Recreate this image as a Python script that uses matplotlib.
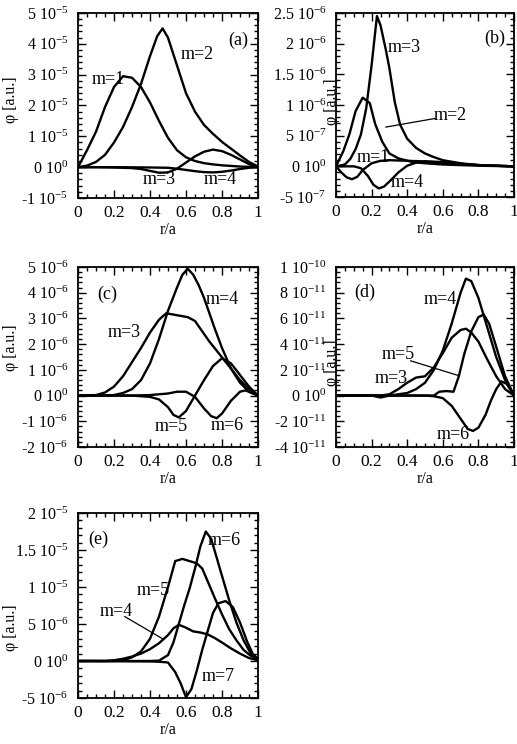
import numpy as np
import matplotlib
matplotlib.use('Agg')
import matplotlib.pyplot as plt
from matplotlib.ticker import AutoMinorLocator, FuncFormatter, MultipleLocator

plt.rcParams['font.family'] = ['Liberation Serif', 'DejaVu Serif']
plt.rcParams['mathtext.fontset'] = 'custom'
plt.rcParams['mathtext.rm'] = 'Liberation Serif'
plt.rcParams['mathtext.it'] = 'Liberation Serif'

# ---- panel (a), unidades 1e-5
a_r1 = [0, .05, .1, .15, .2, .25, .3, .35, .4, .45, .5, .55, .6, .65, .7, .75, .8, .85, .9, .95, 1.0]
a_m1 = [0, 0.55, 1.15, 1.95, 2.6, 2.95, 2.9, 2.6, 2.1, 1.5, 0.95, 0.55, 0.32, 0.2, 0.13, 0.09, 0.06, 0.04, 0.02, 0.01, 0]
a_r2 = [0, .05, .1, .15, .2, .25, .3, .35, .4, .44, .47, .5, .55, .6, .65, .7, .75, .8, .85, .9, .95, 1.0]
a_m2 = [0, 0.05, 0.17, 0.4, 0.8, 1.3, 1.95, 2.7, 3.6, 4.25, 4.5, 4.2, 3.3, 2.4, 1.8, 1.37, 1.08, 0.82, 0.6, 0.38, 0.17, 0.02]
a_r3 = [0, .1, .2, .3, .35, .4, .45, .5, .55, .6, .65, .7, .75, .8, .85, .9, .95, 1.0]
a_m3 = [0, 0, -0.01, -0.03, -0.06, -0.12, -0.18, -0.17, -0.05, 0.15, 0.35, 0.5, 0.57, 0.52, 0.4, 0.25, 0.1, 0]
a_r4 = [0, .2, .4, .5, .55, .6, .65, .7, .75, .8, .85, .9, .95, 1.0]
a_m4 = [0, 0, -0.01, -0.02, -0.05, -0.09, -0.13, -0.16, -0.17, -0.15, -0.11, -0.06, -0.02, 0]

# ---- panel (b), unidades 1e-7
b_r3 = [0, .05, .08, .11, .14, .17, .2, .23, .25, .28, .3, .33, .36, .4, .45, .5, .55, .6, .7, .8, .9, 1.0]
b_m3 = [0, 0.3, 1.2, 2.8, 5.2, 9.5, 16.5, 24.5, 23, 19, 16, 10.5, 6.8, 4.5, 3.0, 2.1, 1.5, 1.0, 0.5, 0.2, 0.08, 0]
b_r2 = [0, .04, .075, .11, .15, .19, .22, .26, .3, .35, .43, .5, .6, .7, .8, .9, 1]
b_m2 = [0, 2.4, 5.2, 9.0, 11.2, 10.3, 6.9, 4.0, 2.1, 1.3, 0.7, 0.5, 0.3, 0.2, 0.1, 0.05, 0]
b_r1 = [0, .03, .06, .09, .12, .15, .2, .25, .3, .4, .5, .6, .7, .8, .9, 1]
b_m1 = [0, -1.0, -1.8, -2.1, -1.7, -0.6, 0.5, 0.9, 1.0, 0.9, 0.8, 0.6, 0.4, 0.2, 0.1, 0]
b_r4 = [0, .1, .14, .18, .21, .24, .27, .31, .35, .4, .45, .5, .6, .7, .8, .9, 1]
b_m4 = [0, 0, -0.3, -1.6, -3.0, -3.6, -3.3, -2.2, -1.0, 0.1, 0.6, 0.8, 0.7, 0.4, 0.2, 0.1, 0]

# ---- panel (c), unidades 1e-6
c_r4 = [0, .15, .2, .25, .3, .35, .4, .45, .5, .55, .58, .61, .64, .67, .7, .73, .76, .8, .85, .9, .95, 1]
c_m4 = [0, 0, 0.02, 0.1, 0.25, 0.6, 1.25, 2.2, 3.3, 4.2, 4.7, 4.93, 4.7, 4.3, 3.8, 3.2, 2.6, 1.85, 1.05, 0.5, 0.15, 0]
c_r3 = [0, .1, .15, .2, .25, .3, .35, .4, .45, .49, .53, .57, .61, .65, .69, .73, .77, .81, .85, .9, .95, 1]
c_m3 = [0, 0.02, 0.12, 0.35, 0.75, 1.3, 1.85, 2.45, 2.95, 3.2, 3.15, 3.1, 3.05, 2.9, 2.5, 2.1, 1.75, 1.4, 1.05, 0.6, 0.25, 0]
c_r5 = [0, .3, .4, .45, .5, .53, .56, .6, .65, .7, .75, .8, .85, .9, .95, 1]
c_m5 = [0, 0, -0.05, -0.15, -0.45, -0.75, -0.85, -0.6, 0.0, 0.6, 1.15, 1.45, 1.25, 0.8, 0.35, 0]
c_r6 = [0, .3, .4, .5, .55, .6, .65, .7, .74, .77, .8, .85, .9, .93, .96, 1]
c_m6 = [0, 0, 0.02, 0.08, 0.15, 0.15, -0.05, -0.5, -0.8, -0.88, -0.7, -0.2, 0.15, 0.2, 0.12, 0]

# ---- panel (d), unidades 1e-11
d_r3 = [0, .25, .3, .35, .4, .45, .5, .55, .6, .65, .7, .73, .76, .8, .85, .9, .95, 1]
d_m3 = [0, 0, 0.1, 0.5, 1.0, 1.4, 1.5, 2.2, 3.3, 4.5, 5.1, 5.2, 4.9, 4.2, 2.8, 1.5, 0.5, 0]
d_r4 = [0, .3, .4, .45, .5, .55, .6, .65, .7, .73, .76, .8, .85, .9, .95, 1]
d_m4 = [0, 0, 0.2, 0.5, 1.0, 2.0, 3.5, 5.6, 8.0, 9.1, 8.9, 7.6, 5.3, 3.0, 1.2, 0]
d_r5 = [0, .2, .25, .3, .55, .58, .62, .66, .69, .72, .76, .8, .83, .86, .9, .95, 1]
d_m5 = [0, 0, -0.15, 0, 0, 0.3, 0.35, 0.3, 1.5, 3.2, 5.0, 6.1, 6.3, 5.6, 3.8, 1.5, 0]
d_r6 = [0, .5, .55, .6, .65, .7, .74, .77, .8, .84, .87, .9, .93, .96, 1]
d_m6 = [0, 0, -0.05, -0.2, -0.8, -1.8, -2.6, -2.75, -2.5, -1.5, -0.4, 0.5, 1.1, 0.9, 0]

# ---- panel (e), unidades 1e-6
e_r6 = [0, .4, .45, .5, .53, .56, .59, .62, .65, .68, .71, .74, .77, .8, .84, .88, .92, .96, 1]
e_m6 = [0, 0, 0.05, 0.8, 2.5, 5.0, 7.5, 9.8, 12.5, 15.5, 17.5, 16.5, 14.0, 11.5, 8.2, 5.2, 2.8, 1.0, 0.3]
e_r5 = [0, .2, .25, .3, .35, .4, .45, .5, .54, .58, .62, .66, .69, .72, .76, .8, .84, .88, .92, .96, 1]
e_m5 = [0, 0, 0.1, 0.5, 1.3, 3.0, 6.0, 10.0, 13.5, 13.8, 13.5, 13.2, 12.5, 10.8, 8.5, 6.3, 4.3, 2.8, 1.5, 0.7, 0.3]
e_r4 = [0, .15, .2, .25, .3, .35, .4, .45, .5, .53, .56, .6, .64, .68, .72, .76, .8, .85, .9, .95, 1]
e_m4 = [0, 0, 0.1, 0.3, 0.6, 1.0, 1.6, 2.4, 3.5, 4.4, 4.9, 4.5, 4.0, 3.85, 3.6, 3.1, 2.5, 1.7, 1.0, 0.4, 0.1]
e_r7 = [0, .4, .45, .5, .54, .57, .6, .63, .66, .69, .72, .75, .78, .82, .86, .9, .94, .97, 1]
e_m7 = [0, -0.05, -0.1, -0.2, -1.5, -3.0, -4.9, -3.8, -1.3, 1.5, 4.0, 6.5, 7.8, 8.1, 7.3, 5.2, 2.6, 1.0, 0.2]

# ticks del eje y
a_yticks = [-1e-5, 0, 1e-5, 2e-5, 3e-5, 4e-5, 5e-5]
b_yticks = [-5e-7, 0, 5e-7, 1e-6, 1.5e-6, 2e-6, 2.5e-6]
c_yticks = [-2e-6, -1e-6, 0, 1e-6, 2e-6, 3e-6, 4e-6, 5e-6]
d_yticks = [-4e-11, -2e-11, 0, 2e-11, 4e-11, 6e-11, 8e-11, 1e-10]
e_yticks = [-5e-6, 0, 5e-6, 1e-5, 1.5e-5, 2e-5]


def fmt(v, pos):
    if v == 0:
        return r'0 $10^{0}$'
    e = int(np.floor(np.log10(abs(v)) + 1e-9))
    m = v / 10**e
    return '%g $10^{%d}$' % (round(m, 2), e)


fig = plt.figure(figsize=(5.17, 7.44), dpi=100)
W, H = 517, 744
boxes = {
    'a': (78, 13, 258, 198),
    'b': (336, 13, 514, 197),
    'c': (78, 267, 258, 447),
    'd': (336, 267, 514, 447),
    'e': (78, 513, 258, 698),
}
# posicion de la etiqueta del eje y (coordenadas de los ejes)
ylab_pos = {'a': (-0.37, 0.53), 'b': (-0.025, 0.52), 'c': (-0.37, 0.55),
            'd': (-0.025, 0.47), 'e': (-0.37, 0.38)}
axs = {}
for k, (x0, y0, x1, y1) in boxes.items():
    axs[k] = fig.add_axes([x0 / W, 1 - y1 / H, (x1 - x0) / W, (y1 - y0) / H])

lw = 1.7
fs = 13      # etiquetas m=..
fsx = 12.5   # ticks x
fsy = 11.5   # ticks y


def style(ax, yt, k):
    ax.set_xlim(0, 1)
    ax.set_ylim(yt[0], yt[-1])
    ax.set_yticks(yt)
    ax.yaxis.set_major_formatter(FuncFormatter(fmt))
    ax.xaxis.set_major_locator(MultipleLocator(0.2))
    ax.xaxis.set_major_formatter(FuncFormatter(lambda v, p: '%g' % round(v, 1)))
    ax.xaxis.set_minor_locator(AutoMinorLocator(4))
    ax.yaxis.set_minor_locator(AutoMinorLocator(5))
    ax.tick_params(which='both', direction='in', top=True, right=True, width=1.0)
    ax.tick_params(which='major', length=6)
    ax.tick_params(which='minor', length=3)
    ax.tick_params(axis='x', labelsize=fsx, pad=5)
    ax.tick_params(axis='y', labelsize=fsy, pad=7)
    for s in ax.spines.values():
        s.set_linewidth(1.3)
    ax.set_xlabel('r/a', fontsize=fsy, labelpad=1)
    ax.set_ylabel('φ [a.u.]', fontsize=fsy, va='center')
    ax.yaxis.set_label_coords(*ylab_pos[k])


def curve(ax, r, y, s):
    ax.plot(r, np.array(y) * s, color='black', lw=lw, solid_joinstyle='round')


# (a)
ax = axs['a']
s = 1e-5
curve(ax, a_r1, a_m1, s)
curve(ax, a_r2, a_m2, s)
curve(ax, a_r3, a_m3, s)
curve(ax, a_r4, a_m4, s)
style(ax, a_yticks, 'a')
ax.text(0.17, 2.85 * s, 'm=1', fontsize=fs, ha='center', va='center')
ax.text(0.665, 3.65 * s, 'm=2', fontsize=fs, ha='center', va='center')
ax.text(0.45, -0.4 * s, 'm=3', fontsize=fs, ha='center', va='center')
ax.text(0.79, -0.4 * s, 'm=4', fontsize=fs, ha='center', va='center')
ax.text(0.89, 4.1 * s, '(a)', fontsize=fs, ha='center', va='center')

# (b)
ax = axs['b']
s = 1e-7
curve(ax, b_r3, b_m3, s)
curve(ax, b_r2, b_m2, s)
curve(ax, b_r1, b_m1, s)
curve(ax, b_r4, b_m4, s)
style(ax, b_yticks, 'b')
ax.text(0.385, 19.4 * s, 'm=3', fontsize=fs, ha='center', va='center')
ax.text(0.64, 8.35 * s, 'm=2', fontsize=fs, ha='center', va='center')
ax.plot([0.555, 0.28], [7.8 * s, 6.4 * s], color='black', lw=0.9)
ax.text(0.21, 1.5 * s, 'm=1', fontsize=fs, ha='center', va='center')
ax.text(0.4, -2.7 * s, 'm=4', fontsize=fs, ha='center', va='center')
ax.text(0.89, 20.9 * s, '(b)', fontsize=fs, ha='center', va='center')

# (c)
ax = axs['c']
s = 1e-6
curve(ax, c_r4, c_m4, s)
curve(ax, c_r3, c_m3, s)
curve(ax, c_r5, c_m5, s)
curve(ax, c_r6, c_m6, s)
style(ax, c_yticks, 'c')
ax.text(0.8, 3.75 * s, 'm=4', fontsize=fs, ha='center', va='center')
ax.text(0.255, 2.45 * s, 'm=3', fontsize=fs, ha='center', va='center')
ax.text(0.52, -1.22 * s, 'm=5', fontsize=fs, ha='center', va='center')
ax.text(0.83, -1.15 * s, 'm=6', fontsize=fs, ha='center', va='center')
ax.text(0.16, 3.95 * s, '(c)', fontsize=fs, ha='center', va='center')

# (d)
ax = axs['d']
s = 1e-11
curve(ax, d_r3, d_m3, s)
curve(ax, d_r4, d_m4, s)
curve(ax, d_r5, d_m5, s)
curve(ax, d_r6, d_m6, s)
style(ax, d_yticks, 'd')
ax.text(0.585, 7.5 * s, 'm=4', fontsize=fs, ha='center', va='center')
ax.text(0.35, 3.2 * s, 'm=5', fontsize=fs, ha='center', va='center')
ax.plot([0.42, 0.69], [2.7 * s, 1.55 * s], color='black', lw=0.9)
ax.text(0.31, 1.3 * s, 'm=3', fontsize=fs, ha='center', va='center')
ax.text(0.66, -3.0 * s, 'm=6', fontsize=fs, ha='center', va='center')
ax.text(0.16, 8.0 * s, '(d)', fontsize=fs, ha='center', va='center')

# (e)
ax = axs['e']
s = 1e-6
curve(ax, e_r6, e_m6, s)
curve(ax, e_r5, e_m5, s)
curve(ax, e_r4, e_m4, s)
curve(ax, e_r7, e_m7, s)
style(ax, e_yticks, 'e')
ax.text(0.81, 16.3 * s, 'm=6', fontsize=fs, ha='center', va='center')
ax.text(0.42, 9.5 * s, 'm=5', fontsize=fs, ha='center', va='center')
ax.text(0.21, 6.7 * s, 'm=4', fontsize=fs, ha='center', va='center')
ax.plot([0.26, 0.47], [6.0 * s, 3.0 * s], color='black', lw=0.9)
ax.text(0.78, -2.1 * s, 'm=7', fontsize=fs, ha='center', va='center')
ax.text(0.115, 16.4 * s, '(e)', fontsize=fs, ha='center', va='center')

fig.savefig('out.png', dpi=100)
